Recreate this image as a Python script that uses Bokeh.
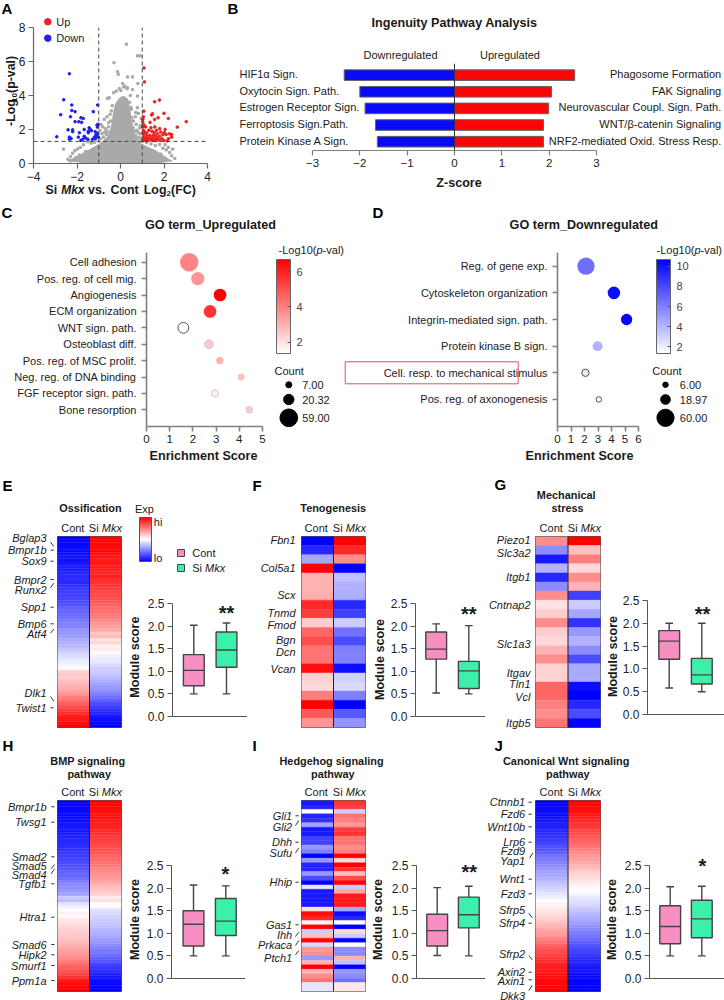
from math import pi, sqrt
from bokeh.plotting import figure
from bokeh.models import Column, ColumnDataSource, Range1d, LinearColorMapper, ColorBar, FixedTicker
from bokeh.core.properties import value
from bokeh.embed import file_html
from bokeh.resources import INLINE

FONT = "Liberation Sans"
OFF = 0

# ---------- Panel A ----------
gray_x = [.27,.78,.9,-.3,-.14,-.1,.32,.55,.8,.2,.55,.32,.78,-.6,-.52,-.32,-.2,.02,.78,.7,-.62,-.75,-.55,-.9,-.82,-.7,-.95,-.6,-.48,-.85,-.65,-.78,-.92,-.55,-.72,.6,.72,.88,.95,.65,.8,.9,.58,.7,.85,.95,.62,.75,.92,.68,.82,-1.2,-1.35,-1.5,-1.7,-1.85,-1.98,-2.1,-2.2,-2.3,-2.62,-2.42,-2.05,-1.9,-1.6,1.2,1.4,1.6,1.8,1.95,2.1,2.25,2.35,2.5,2.2,2.05,1.85,2.4,1.7,-1.25,-1.45,-1.75,-1.95,-2.15,-2.32,1.3,1.55,1.9,-.42,-.38,.42,.48,-.45,.52,.45,.5,.3,.15,-.05,.1]
gray_y = [7.02,6.33,6.33,5.93,5.4,5.25,5.09,5.09,4.7,4.55,4.35,4.45,3.97,3.83,3.87,4.16,4.26,4.3,3.28,3.0,2.75,2.6,2.4,2.3,2.15,2.05,1.95,1.9,2.9,1.75,1.7,1.55,1.45,2.15,1.85,2.5,2.3,2.1,2.65,1.9,1.85,1.75,2.1,1.65,1.55,1.45,1.55,1.95,2.25,2.75,2.95,1.25,1.2,1.28,1.1,.95,.85,.75,.6,.4,.85,.25,.35,.5,.7,1.22,1.15,1.05,1.12,.9,.8,.65,.45,.3,.95,1.1,.55,.85,.35,.75,.5,.4,.3,.2,.15,.6,.3,.2,3.1,3.4,3.6,3.3,2.5,2.7,4.0,3.2,4.4,4.5,4.4,4.7]
cloud_x = [-2.35,-2.0,-1.7,-1.4,-1.2,-1.0,-.8,-.6,-.45,-.35,-.25,-.1,.05,.2,.35,.45,.52,.65,.85,1.0,1.3,1.6,1.9,2.2,2.4]
cloud_top = [.2,.42,.65,.85,1.0,1.15,1.35,1.6,2.1,2.9,3.5,3.8,3.95,3.95,3.8,3.2,2.6,1.8,1.4,1.15,.95,.8,.55,.3,.15]
cloud_bot = [.12,.08,.02,0,0,0,0,0,0,0,0,0,0,0,0,0,0,0,0,0,0,0,.03,.1,.12]
up_x = [1.08,1.1,1.57,1.79,1.07,1.47,1.43,1.73,2.0,2.2,3.02,2.61,1.57,1.36,1.05,1.03,1.02,1.05,1.1,1.15,1.02,1.4,1.58,1.8,2.05,1.65,1.3,1.45,1.85,2.02,2.25,1.05,1.1,1.2,1.03,1.55,1.7,1.95,2.1,2.35,1.08,1.22,1.35,1.5,1.62,1.8,2.35,1.05,1.15,1.3,1.42,1.55,1.7,1.9,2.2,1.03,1.12,1.25,1.4,1.5,1.65,1.78,2.0,2.15,1.05,1.2]
up_y = [5.62,4.8,3.63,3.73,3.08,2.93,2.85,2.69,2.95,2.65,2.46,2.14,2.59,2.42,2.75,2.6,2.45,2.3,2.2,2.15,2.15,2.1,2.15,2.05,2.0,1.95,1.95,1.9,1.85,1.82,1.75,1.95,1.85,1.8,1.8,1.8,1.75,1.7,1.7,1.7,1.7,1.65,1.65,1.65,1.6,1.6,1.55,1.55,1.5,1.5,1.5,1.45,1.48,1.45,1.45,1.4,1.38,1.4,1.38,1.35,1.35,1.38,1.35,1.33,1.33,1.33]
down_x = [-2.35,-2.61,-2.75,-2.24,-2.24,-2.09,-2.3,-1.25,-1.05,-1.82,-1.71,-2.09,-1.92,-1.79,-2.41,-2.2,-2.2,-2.93,-2.35,-2.27,-2.35,-1.89,-1.94,-1.67,-1.44,-1.39,-1.33,-1.48,-1.06,-1.08,-1.48,-1.16,-1.05,-1.13,-1.08,-1.2,-1.16,-1.67,-1.6,-1.5,-1.74,-1.82,-1.29,-1.02,-1.03]
down_y = [5.28,3.75,2.87,3.44,3.12,3.05,2.75,3.05,3.44,2.69,2.65,2.46,2.46,2.42,1.98,1.98,1.87,1.57,1.55,1.47,1.43,1.81,1.55,2.0,2.1,2.0,1.93,1.9,2.14,2.26,1.81,1.87,1.77,1.7,1.6,1.55,1.45,1.6,1.5,1.42,1.42,1.36,1.42,1.55,2.3]

# ---------- Panel B ----------
pathways_down = ["HIF1\u03b1 Sign.", "Oxytocin Sign. Path.", "Estrogen Receptor Sign.", "Ferroptosis Sign.Path.", "Protein Kinase A Sign."]
z_down = [-2.33, -2.0, -1.89, -1.67, -1.63]
pathways_up = ["Phagosome Formation", "FAK Signaling", "Neurovascular Coupl. Sign. Path.", "WNT/\u03b2-catenin Signaling", "NRF2-mediated Oxid. Stress Resp."]
z_up = [2.54, 2.05, 1.99, 1.88, 1.88]

# ---------- Panels C, D ----------
go_up = ["Cell adhesion", "Pos. reg. of cell mig.", "Angiogenesis", "ECM organization", "WNT sign. path.", "Osteoblast diff.", "Pos. reg. of MSC prolif.", "Neg. reg. of DNA binding", "FGF receptor sign. path.", "Bone resorption"]
go_up_score = [1.84, 2.21, 3.17, 2.74, 1.59, 2.69, 3.16, 4.08, 2.95, 4.43]
go_up_p = [3.9, 3.6, 6.65, 5.6, 1.36, 2.5, 3.0, 2.7, 1.8, 2.5]
go_up_count = [59, 31, 28, 28, 20, 14, 9.5, 8, 9.5, 8]
go_up_edge = [None, None, None, None, "#555555", "#d0d0d0", None, None, "#d0d0d0", "#d0d0d0"]
go_down = ["Reg. of gene exp.", "Cytoskeleton organization", "Integrin-mediated sign. path.", "Protein kinase B sign.", "Cell. resp. to mechanical stimulus", "Pos. reg. of axonogenesis"]
go_down_score = [2.11, 4.18, 5.12, 2.97, 2.07, 3.06]
go_down_p = [6.6, 10.2, 10.5, 4.2, 2.2, 1.4]
go_down_count = [60, 32, 26, 20, 11, 6]
go_down_edge = [None, None, None, None, "#555555", "#555555"]

# ---------- Heatmaps ----------
E_cont = [-1,-.98,-.97,-.95,-.96,-.93,-.92,-.93,-.9,-.88,-.88,-.85,-.84,-.82,-.84,-.8,-.78,-.76,-.74,-.72,-.7,-.68,-.62,-.6,-.57,-.55,-.52,-.5,-.48,-.42,-.4,-.38,-.33,-.3,-.28,-.22,-.18,-.14,-.1,-.07,-.04,-.02,.18,.22,.2,.25,.28,.32,.36,.42,.5,.55,.62,.7,.75,.82,.88,.9,.95,1]
E_si = [1,.98,.97,.95,.98,.93,.92,.9,.92,.88,.86,.84,.88,.82,.8,.78,.76,.74,.7,.68,.65,.62,.58,.56,.52,.5,.46,.42,.38,.34,.22,.28,.12,.16,.06,.08,.02,-.05,-.08,-.1,-.14,-.18,-.2,-.24,-.28,-.32,-.36,-.4,-.44,-.5,-.56,-.62,-.7,-.76,-.82,-.85,-.9,-.94,-.97,-1]
F_cont = [-1,-.85,-.35,1,.3,.3,.32,.85,.75,.2,.6,.7,.55,.55,.95,.18,.15,.5,1,.65,.42]
F_si = [1,.85,.45,-1,-.25,-.3,-.32,-.85,-.75,-.2,-.55,-.7,-.5,-.5,-.95,-.18,-.15,-.5,-1,-.65,-.42]
G_cont = [.45,-.45,-.9,-.3,-.85,-.45,.45,.12,.2,.45,.2,.15,.3,.45,.18,.18,.6,.6,.5,.45,.55]
G_si = [1,.25,.5,.15,.45,.3,-.75,-.2,-.35,-.8,-.4,-.3,-.45,-.7,-.33,-.33,-.95,-1,-.85,-.7,-1]
H_cont = [-1,-.98,-.97,-.96,-.95,-.94,-.95,-.92,-.9,-.9,-.88,-.86,-.85,-.84,-.82,-.8,-.78,-.76,-.74,-.7,-.68,-.66,-.62,-.6,-.56,-.5,-.46,-.44,-.4,-.36,-.2,-.26,-.12,-.06,-.02,.06,.02,.1,.12,.16,.18,.2,.22,.24,.28,.3,.34,.38,.42,.46,.5,.58,.62,.68,.72,.8,.9,.95,.98,1]
H_si = [1,.98,.96,.94,.92,.93,.9,.88,.86,.84,.8,.78,.76,.72,.7,.68,.66,.62,.58,.55,.52,.48,.46,.42,.4,.36,.3,.26,.22,.18,.08,.12,.02,-.02,-.12,-.14,-.16,-.2,-.22,-.24,-.28,-.3,-.34,-.38,-.4,-.44,-.48,-.52,-.56,-.62,-.66,-.72,-.78,-.82,-.86,-.9,-.94,-.96,-.98,-1]
I_cont = [-.9,-.85,0,-.85,-.8,-.35,-.9,-.9,-.75,-.75,-.4,-.5,-1,-.4,-.85,-.85,-.4,-.7,-1,-.1,-.9,-.9,-.9,-.9,.12,.95,.85,.05,1,-.2,.25,1,-.15,.4,.45,-.4,.3,1,.3,.45,.55,-.1,-.1]
I_si = [.8,.75,-.2,.55,.5,.4,.75,.8,.55,.55,.45,.5,1,.15,1,.8,.25,.7,1,-.2,.35,.9,.9,.9,-.35,-.95,-.85,0,-1,.15,-.2,-1,0,-.45,-.45,.3,-.25,-1,-.4,-.45,-.55,.1,.1]
J_cont = [-1,-.98,-.96,-.95,-.94,-.92,-.9,-.88,-.86,-.84,-.82,-.8,-.76,-.72,-.68,-.66,-.62,-.56,-.52,-.48,-.44,-.4,-.36,-.34,-.3,-.26,-.22,-.18,-.14,-.1,-.06,0,.04,.06,.1,.12,.16,.2,.26,.3,.34,.38,.42,.5,.54,.6,.66,.7,.74,.78,.82,.86,.88,.9,.92,.94,.96,.97,.98,1]
J_si = [1,.98,.96,.94,.9,.86,.84,.8,.78,.72,.7,.66,.62,.58,.54,.5,.46,.42,.38,.34,.3,.26,.2,.16,.14,.1,.06,.03,0,-.04,-.08,-.12,-.14,-.18,-.22,-.26,-.3,-.34,-.38,-.42,-.46,-.5,-.54,-.58,-.62,-.66,-.7,-.74,-.78,-.82,-.85,-.87,-.9,-.92,-.94,-.96,-.97,-.98,-.99,-1]

# ---------- Box plots: low, q1, median, q3, high ----------
E_box = ([.5,.68,1.02,1.37,2.02], [.5,1.09,1.47,1.87,2.07])
F_box = ([.52,1.27,1.49,1.87,2.05], [.5,.62,1.01,1.22,2.01])
G_box = ([.58,1.21,1.61,1.84,2.0], [.5,.67,.87,1.23,2.0])
H_box = ([.5,.72,1.2,1.5,2.07], [.5,.95,1.27,1.77,2.05])
I_box = ([.51,.72,1.06,1.42,2.01], [.5,1.12,1.41,1.8,2.04])
J_box = ([.5,.77,1.15,1.61,2.03], [.5,.9,1.32,1.73,2.04])
module_ticks = [0, .5, 1, 1.5, 2, 2.5]

# ---------- Colours ----------
PINK, GREEN = "#F78FC3", "#3CF0AC"
def ramp(c):
    return ["#" + "".join("%02x" % (255 - round((255 - ch) * i / 255)) for ch in c) for i in range(256)]
WR = ramp((255, 0, 0))
WB = ramp((0, 0, 255))
BWR = list(reversed(WB))[::2] + WR[::2]
heat_map = LinearColorMapper(palette=BWR, low=-1, high=1)
red_map = LinearColorMapper(palette=WR, low=1.36, high=6.68)
blue_map = LinearColorMapper(palette=WB, low=1.35, high=10.66)

children = []

def panel(x0, y0, x1, y1, xr, yr, pad=(40, 8, 8, 30)):
    L, R, T, B = pad
    w, h = x1 - x0 + L + R, y1 - y0 + T + B
    f = figure(width=w, height=h, frame_align=False,
               x_range=Range1d(*xr), y_range=Range1d(*yr),
               min_border_left=L, min_border_right=R, min_border_top=T, min_border_bottom=B,
               toolbar_location=None, output_backend="svg",
               background_fill_alpha=0, border_fill_alpha=0, outline_line_color=None,
               margin=(y0 - T - OFF, 0, -(y0 - T - OFF + h), x0 - L - OFF))
    f.grid.visible = False
    children.append(f)
    return f

def style_axis(ax, color="#555555", width=1.0, size="11px", ticks=None):
    ax.axis_line_color = color
    ax.axis_line_width = width
    ax.major_tick_line_color = color
    ax.major_tick_line_width = width
    ax.major_tick_in = 0
    ax.major_tick_out = 5
    ax.minor_tick_line_color = None
    ax.major_label_text_font = FONT
    ax.major_label_text_font_size = size
    ax.major_label_text_color = "#222222"
    ax.major_label_standoff = 3
    if ticks is not None:
        ax.ticker = FixedTicker(ticks=ticks)

# ---------- A ----------
a = panel(33, 27, 207, 163, (-4, 4), (0, 8), pad=(33, 10, 10, 22))
a.varea(x=cloud_x, y1=cloud_bot, y2=cloud_top, fill_color="#a9a9a9")
a.scatter(gray_x, gray_y, size=2.2, marker="square", color="#a9a9a9")
a.scatter(down_x, down_y, size=2.6, color="#1f1fee")
a.scatter(up_x, up_y, size=2.6, color="#f01f1f")
for vx in (-1, 1):
    a.segment(x0=[vx], x1=[vx], y0=[0], y1=[8], line_color="#444444", line_dash="4 3", line_width=1)
a.segment(x0=[-4], x1=[4], y0=[1.3], y1=[1.3], line_color="#444444", line_dash="4 3", line_width=1)
style_axis(a.xaxis[0], "#666666", 1.2, "12px", [-4, -2, 0, 2, 4])
style_axis(a.yaxis[0], "#666666", 1.2, "12px", [0, 2, 4, 6, 8])

# ---------- B ----------
bar_y = [4, 3, 2, 1, 0]
b = panel(312, 63, 596, 150, (-3, 3), (-.53, 4.7), pad=(12, 12, 2, 24))
b.hbar(y=bar_y, left=z_down, right=[0] * 5, height=.64, fill_color="#0a0af5", line_color="#666666", line_width=1)
b.hbar(y=bar_y, left=[0] * 5, right=z_up, height=.64, fill_color="#fb0606", line_color="#666666", line_width=1)
b.segment(x0=[0], x1=[0], y0=[-.53], y1=[4.7], line_color="#333333", line_width=1)
style_axis(b.xaxis[0], "#808080", 1.2, "11.5px", [-3, -2, -1, 0, 1, 2, 3])
b.yaxis.visible = False

# ---------- C, D ----------
def bubbles(x0, x1, xmax, names, score, pval, count, edge, k, cmap, first_y, step):
    y0, y1 = 252, 426
    yb = lambda py: (py - first_y) / step
    f = panel(x0, y0, x1, y1, (0, xmax), (yb(y1), yb(y0)), pad=(142, 8, 6, 24))
    ys = list(range(len(names)))
    src = ColumnDataSource(dict(x=score, y=ys, p=pval, s=[k * sqrt(c) for c in count], lc=edge))
    f.scatter("x", "y", size="s", source=src, line_color="lc", line_width=1,
              fill_color={"field": "p", "transform": cmap})
    style_axis(f.xaxis[0], "#808080", 1.6, "11.5px", list(range(xmax + 1)))
    style_axis(f.yaxis[0], "#808080", 1.6, "11px", ys)
    f.yaxis[0].major_label_overrides = {i: n for i, n in enumerate(names)}
    f.yaxis[0].major_label_standoff = 5
    f.xaxis[0].major_label_standoff = 3
    return f

bubbles(146, 262, 5, go_up, go_up_score, go_up_p, go_up_count, go_up_edge, 2.4, red_map, 261.7, 16.4)
bubbles(522, 638, 6, go_down, go_down_score, go_down_p, go_down_count, go_down_edge, 2.22, blue_map, 265.7, 26.65)

# ---------- Heatmaps ----------
def heat(x0, y0, x1, y1, cont, si):
    n = len(cont)
    f = panel(x0, y0, x1, y1, (0, 2), (n, 0), pad=(2, 2, 2, 2))
    f.xaxis.visible = False
    f.yaxis.visible = False
    for col, vals in ((0, cont), (1, si)):
        src = ColumnDataSource(dict(t=list(range(n)), b=[i + 1 for i in range(n)], v=vals))
        cm = {"field": "v", "transform": heat_map}
        f.quad(left=col, right=col + 1, top="t", bottom="b", source=src,
               fill_color=cm, line_color=cm, line_width=.4)
    f.segment(x0=[1], x1=[1], y0=[0], y1=[n], line_color="#222222", line_width=1)
    f.outline_line_color = "#555555"
    f.outline_line_width = 1
    return f

heat(57, 536, 121, 727, E_cont, E_si)
heat(301, 536, 365, 727, F_cont, F_si)
heat(535, 536, 600, 727, G_cont, G_si)
heat(57, 800, 121, 991, H_cont, H_si)
heat(301, 800, 365, 991, I_cont, I_si)
heat(535, 800, 600, 991, J_cont, J_si)

# ---------- Box plots ----------
def box(x0, y0, x1, y1, c1, c2, stats):
    s = c2 - c1
    f = panel(x0, y0, x1, y1, (1 - (c1 - x0) / s, 2 + (x1 - c2) / s), (0, 2.5), pad=(34, 0, 10, 14))
    xs = [1, 2]
    lo = [st[0] for st in stats]; q1 = [st[1] for st in stats]; md = [st[2] for st in stats]
    q3 = [st[3] for st in stats]; hi = [st[4] for st in stats]
    w = 10.4 / s; cap = 3.8 / s
    lc = "#444444"
    f.segment(x0=xs, x1=xs, y0=lo, y1=q1, line_color=lc, line_width=1.4)
    f.segment(x0=xs, x1=xs, y0=q3, y1=hi, line_color=lc, line_width=1.4)
    f.segment(x0=[v - cap for v in xs], x1=[v + cap for v in xs], y0=lo, y1=lo, line_color=lc, line_width=1.4)
    f.segment(x0=[v - cap for v in xs], x1=[v + cap for v in xs], y0=hi, y1=hi, line_color=lc, line_width=1.4)
    f.quad(left=[v - w for v in xs], right=[v + w for v in xs], bottom=q1, top=q3,
           fill_color=[PINK, GREEN], line_color=lc, line_width=1.4)
    f.segment(x0=[v - w for v in xs], x1=[v + w for v in xs], y0=md, y1=md, line_color=lc, line_width=1.4)
    style_axis(f.yaxis[0], "#555555", 1.0, "12px", module_ticks)
    f.yaxis[0].major_label_overrides = {t: f"{t:.1f}" for t in module_ticks}
    style_axis(f.xaxis[0], "#555555", 1.0, "11px", [])
    f.xaxis[0].major_tick_out = 0
    f.xaxis[0].major_label_text_font_size = "0px"
    return f

box(172, 603, 247, 716, 193.3, 226, E_box)
box(415, 603, 485, 716, 435.7, 468.3, F_box)
box(647, 600, 724, 714, 668.7, 701.3, G_box)
box(171, 865, 245, 978, 193, 225.3, H_box)
box(416, 865, 485, 978, 436.7, 468.3, I_box)
box(649, 865, 724, 978, 669.7, 701.3, J_box)

# ---------- Overlay with all free text, legends and colour bars ----------
ov = figure(width=724, height=1000, frame_align=False, x_range=Range1d(0, 724), y_range=Range1d(1000, 0),
            min_border=0, toolbar_location=None, output_backend="svg",
            background_fill_alpha=0, border_fill_alpha=0, outline_line_color=None,
            x_axis_type=None, y_axis_type=None, margin=(-OFF, 0, -(1000 - OFF), -OFF))
ov.grid.visible = False
children.append(ov)

def T(x, y, s, size=11, style="normal", align="left", color="#1a1a1a", angle=0, base="middle"):
    ov.text(x=[x], y=[y], text=[s], text_font=value(FONT), text_font_size=f"{size}px",
            text_font_style=style, text_align=align, text_baseline=base, text_color=color, angle=angle)

for s, x, y in [("A", 1, 8), ("B", 227, 8), ("C", 1, 212), ("D", 372, 212), ("E", 2, 485),
                ("F", 252, 485), ("G", 494, 484), ("H", 2, 745), ("I", 252, 745), ("J", 494, 745)]:
    T(x, y, s, 15, "bold", color="#000000")

# A
ov.scatter([47.3], [21.3], size=6.5, color="#f01f2f")
ov.scatter([47.3], [37.7], size=6.5, color="#1f1fee")
T(55.7, 21.3, "Up", 11)
T(55.7, 37.7, "Down", 11)
T(45, 189, "Si", 12.4, "bold")
T(60.7, 189, "Mkx", 12, "bold italic")
T(87.5, 189, "vs.", 12.4, "bold")
T(110, 189, "Cont", 12.4, "bold")
T(143.3, 189, "Log", 12.4, "bold")
T(166, 192.5, "2", 8, "bold")
T(170.5, 189, "(FC)", 12.4, "bold")
T(10, 125.5, "-Log", 12.4, "bold", angle=pi / 2)
T(13.5, 101.5, "10", 8, "bold", angle=pi / 2)
T(10, 92.5, "(p-val)", 12.4, "bold", angle=pi / 2)

# B
T(454, 22, "Ingenuity Pathway Analysis", 12.6, "bold", "center")
T(400, 54.5, "Downregulated", 11, align="center")
T(509.5, 54.5, "Upregulated", 11, align="center")
for i, (l, r) in enumerate(zip(pathways_down, pathways_up)):
    yy = 73.7 + 16.6 * i
    T(239, yy, l, 11)
    T(720.7, yy, r, 11, align="right")
T(458.5, 182, "Z-score", 12.6, "bold", "center")

# C, D
T(210, 224.3, "GO term_Upregulated", 12.6, "bold", "center")
T(583.3, 224.3, "GO term_Downregulated", 12.6, "bold", "center")
T(203, 455.7, "Enrichment Score", 12.6, "bold", "center")
T(579, 455.7, "Enrichment Score", 12.6, "bold", "center")
ov.quad(left=[344.7], right=[517.7], top=[361.3], bottom=[383.3], fill_alpha=0, line_color="#e6505c", line_width=1)
for tx in (278, 656):
    T(tx, 249, "-Log10(", 11)
    T(tx + 38, 249, "p", 11, "italic")
    T(tx + 44.1, 249, "-val)", 11)
T(274, 370, "Count", 11)
T(651.7, 370, "Count", 11)
for lab, cn, yy in (("7.00", 7, 384.3), ("20.32", 20.32, 399), ("59.00", 59, 417.3)):
    ov.scatter([288.3], [yy], size=2.3 * sqrt(cn), color="#000000")
    T(301.7, yy, lab, 11)
for lab, cn, yy in (("6.00", 6, 384.3), ("18.97", 18.97, 399), ("60.00", 60, 417.3)):
    ov.scatter([665], [yy], size=2.22 * sqrt(cn), color="#000000")
    T(679.3, yy, lab, 11)

def cbar(mapper, x, y0, y1, w, ticks):
    cb = ColorBar(color_mapper=mapper, location=(x, 1000 - y1), width=w, height=y1 - y0, padding=0,
                  ticker=FixedTicker(ticks=ticks), major_tick_line_color="#555555", major_tick_in=3,
                  major_tick_out=0, minor_tick_line_color=None, bar_line_color="#666666", bar_line_width=1,
                  major_label_text_font=FONT, major_label_text_font_size="11px", label_standoff=6,
                  background_fill_alpha=0, border_line_color=None)
    ov.add_layout(cb)

cbar(red_map, 276, 259, 353, 14, [2, 4, 6])
cbar(blue_map, 656, 259, 353, 14, [2, 4, 6, 8, 10])
exp_map = LinearColorMapper(palette=BWR, low=-1, high=1)
cb = ColorBar(color_mapper=exp_map, location=(139, 1000 - 561), width=12, height=44, padding=0,
              ticker=FixedTicker(ticks=[]), major_tick_line_color=None, minor_tick_line_color=None,
              bar_line_color="#555555", bar_line_width=1, background_fill_alpha=0, border_line_color=None)
ov.add_layout(cb)
T(144, 508, "Exp", 11, align="center")
T(153.3, 521.3, "hi", 11)
T(153.3, 557.3, "lo", 11)
ov.quad(left=[177], right=[184], top=[549], bottom=[556], fill_color=PINK, line_color="#444444", line_width=1)
ov.quad(left=[177], right=[184], top=[564], bottom=[571], fill_color=GREEN, line_color="#444444", line_width=1)
T(191.7, 552, "Cont", 11)
T(191.7, 567, "Si", 11)
T(204.5, 567, "Mkx", 11, "italic")

# Heat-map heads
for cx, sx, yy in ((72.3, 88.3, 527.3), (315.7, 332.3, 527.3), (550.7, 567.3, 527.3),
                   (72.3, 88.3, 791), (315.7, 332.3, 791), (550.7, 567.3, 791)):
    T(cx, yy, "Cont", 11, align="center")
    T(sx, yy, "Si", 11)
    T(sx + 13, yy, "Mkx", 11, "italic")
for s, x, y in [("Ossification", 90, 507.7), ("Tenogenesis", 332.7, 507.7), ("Mechanical", 565.7, 494.7),
                ("stress", 567, 507.7), ("BMP signaling", 87.3, 760), ("pathway", 88.7, 773.3),
                ("Hedgehog signaling", 331, 760), ("pathway", 332.3, 773.3),
                ("Canonical Wnt signaling", 565.7, 760), ("pathway", 567.3, 773.3)]:
    T(x, y, s, 10.9, "bold", "center")

# Box-plot decorations
for x, y in ((134.3, 656.7), (379.3, 659), (612, 656), (134.3, 919), (377.3, 919), (611.3, 919)):
    T(x, y, "Module score", 12.6, "bold", "center", angle=pi / 2)
for x, y, s in ((226, 612, "**"), (468.3, 613, "**"), (702, 613, "**"), (225, 873, "*"), (468.7, 871, "**"), (702, 865, "*")):
    T(x, y, s, 20, "bold", "center")

# Gene labels: (name, y)
genes_E = [("Bglap3", 537.7), ("Bmpr1b", 549.7), ("Sox9", 560.7), ("Bmpr2", 579), ("Runx2", 589), ("Spp1", 606.7), ("Bmp6", 623.3), ("Atf4", 633.3), ("Dlk1", 692), ("Twist1", 707)]
genes_F = [("Fbn1", 539.3), ("Col5a1", 567.3), ("Scx", 594.3), ("Tnmd", 612.7), ("Fmod", 624), ("Bgn", 639.3), ("Dcn", 651.3), ("Vcan", 668.3)]
genes_G = [("Piezo1", 539.3), ("Slc3a2", 552), ("Itgb1", 576), ("Cntnap2", 604.7), ("Slc1a3", 643.3), ("Itgav", 672), ("Tln1", 683.3), ("Vcl", 696), ("Itgb5", 722.3)]
genes_H = [("Bmpr1b", 806.3), ("Twsg1", 821.7), ("Smad2", 856.3), ("Smad5", 865.3), ("Smad4", 874.3), ("Tgfb1", 883.3), ("Htra1", 916.7), ("Smad6", 944), ("Hipk2", 954.3), ("Smurf1", 965), ("Ppm1a", 980)]
genes_I = [("Gli1", 815.3), ("Gli2", 826), ("Dhh", 841.7), ("Sufu", 852), ("Hhip", 881.7), ("Gas1", 924.3), ("Ihh", 934.3), ("Prkaca", 944), ("Ptch1", 957.3)]
genes_J = [("Ctnnb1", 801.7), ("Fzd6", 813.7), ("Wnt10b", 826.3), ("Lrp6", 841.7), ("Fzd9", 850.3), ("Yap1", 860.3), ("Wnt1", 878.7), ("Fzd3", 893.3), ("Sfrp5", 909), ("Sfrp4", 922.7), ("Sfrp2", 953.3), ("Axin2", 971.7), ("Axin1", 980.3), ("Dkk3", 995.7)]
for genes, rx in ((genes_E, 46), (genes_F, 295), (genes_G, 530), (genes_H, 46), (genes_I, 291.7), (genes_J, 524.7)):
    for name, yy in genes:
        T(rx, yy, name, 11, "italic", "right")

# Leader marks: x-start, y-start, x-end, y-end
marks_E = [(50, 541.7, 53.3, 546), (50, 549.7, 53.3, 549.7), (50, 560.7, 53.3, 560.7), (50, 579, 53.3, 579), (50, 587.3, 53.3, 582.7), (50, 606.7, 53.3, 606.7), (50, 623.3, 53.3, 623.3), (50, 632.7, 53.3, 628.7), (50, 696, 53.3, 700.7), (50, 707.3, 53.3, 707.3)]
marks_H = [(50.7, 806.3, 54, 806.3), (50.7, 821.7, 54, 821.7), (50.7, 856.3, 54, 856.3), (50.7, 868.3, 54, 864), (50.7, 873.3, 54, 868.3), (50.7, 883.3, 54, 883.3), (50.7, 916.7, 54, 916.7), (50.7, 944, 54, 944), (50.7, 954.3, 54, 954.3), (50.7, 965, 54, 965), (50.7, 980, 54, 980)]
marks_I = [(295, 815.3, 298.3, 815.3), (295, 825, 298.3, 820), (295, 841.7, 298.3, 841.7), (295, 852.3, 298.3, 847.7), (295, 881.7, 298.3, 881.7), (295, 924.3, 298.3, 924.3), (295, 936, 298.3, 931.7), (295, 945, 298.3, 940), (295, 954.3, 298.3, 950)]
marks_J = [(528, 801.7, 531.3, 801.7), (528, 813.7, 531.3, 813.7), (528, 826.3, 531.3, 826.3), (528, 841.7, 531.3, 841.7), (529, 857.7, 532.3, 852.3), (528, 878.7, 531.3, 878.7), (528, 893.3, 531.3, 893.3), (528.3, 912.7, 531.7, 917.3), (528, 922.7, 531.3, 922.7), (528.3, 955, 531.7, 959.3), (528, 971.7, 531.3, 971.7), (528, 979.3, 531.3, 979.3), (528.3, 990, 531.7, 985)]
for marks in (marks_E, marks_H, marks_I, marks_J):
    ov.segment(x0=[m[0] for m in marks], y0=[m[1] for m in marks], x1=[m[2] for m in marks], y1=[m[3] for m in marks],
               line_color="#333333", line_width=1)

p = Column(children=children, width=724, height=1000)
open("out.html", "w").write(file_html(p, INLINE))
